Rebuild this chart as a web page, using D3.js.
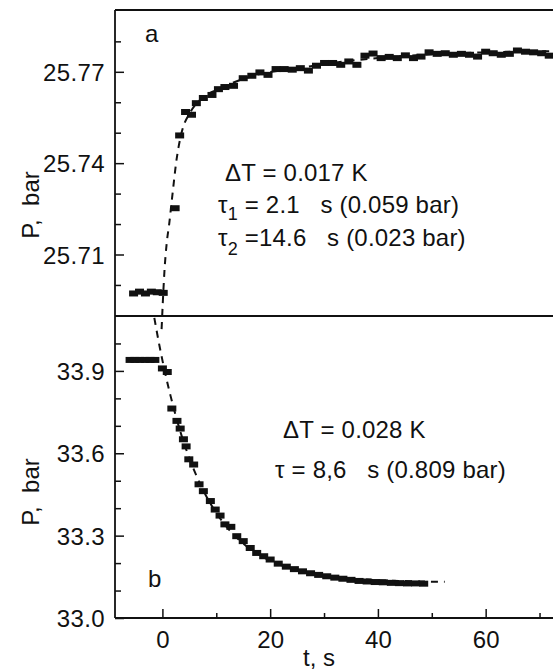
<!DOCTYPE html>
<html>
<head>
<meta charset="utf-8">
<script src="https://cdn.jsdelivr.net/npm/d3@7"></script>
<style>
  body { margin: 0; background: #fff; }
  svg text { font-family: "Liberation Sans", Arial, sans-serif; fill: #111; }
</style>
</head>
<body>
<div id="chart"></div>
<script>
// panneau a : montée de pression (s)
const tA = [-5.35, -4.25, -3.15, -2.05, -0.95, 0.15, 2.36, 3.2, 4.3, 5.4, 6.3, 7.6,
  9.2, 10.4, 11.6, 13.2, 15.0, 16.6, 18.1, 19.6, 21.1, 22.6, 24.1, 25.6,
  27.1, 28.6, 30.1, 31.6, 33.1, 34.6, 36.1, 37.6, 39.1, 40.6, 42.1, 43.6,
  45.1, 46.6, 48.0, 49.5, 51.0, 52.5, 54.0, 55.5, 57.0, 58.5, 60.0, 61.4,
  62.9, 64.4, 65.9, 67.4, 68.9, 70.4, 71.8];
const pA = [25.6972, 25.6978, 25.6972, 25.6978, 25.6976, 25.6974, 25.7252, 25.7491, 25.7568, 25.7559, 25.7597, 25.7614,
  25.7624, 25.7643, 25.7650, 25.7654, 25.7679, 25.7687, 25.7698, 25.7690, 25.7709, 25.7709, 25.7707, 25.7712,
  25.7704, 25.7720, 25.7729, 25.7729, 25.7723, 25.7734, 25.7723, 25.7753, 25.7760, 25.7745, 25.7749, 25.7745,
  25.7754, 25.7745, 25.7750, 25.7764, 25.7759, 25.7761, 25.7756, 25.7759, 25.7756, 25.7750, 25.7766, 25.7761,
  25.7756, 25.7759, 25.7770, 25.7766, 25.7764, 25.7761, 25.7753];

// courbe d'ajustement (pointillés) panneau a
const tFitA = [-0.15, 0.07, 0.37, 0.82, 1.24, 1.75, 2.17, 2.49, 2.97, 3.6, 5.1, 7.0, 10.7, 16.3, 25.6, 34.8, 44.1, 53.4, 62.7, 72.5];
const pFitA = [25.6855, 25.6941, 25.7043, 25.7141, 25.7197, 25.7279, 25.7345, 25.7394, 25.7450, 25.7503, 25.7565, 25.7608,
  25.7645, 25.7684, 25.7713, 25.7736, 25.7751, 25.7760, 25.7765, 25.7768];

// panneau b : descente de pression
const tB = [-6.0, -5.1, -4.2, -3.2, -2.3, -1.4, 0.0, 0.9, 1.75, 2.7, 3.3, 3.9, 4.4, 4.9, 5.8, 6.8, 7.6,
  8.9, 9.8, 10.7, 11.6, 12.7, 13.8, 15.0, 16.3, 17.5, 18.8, 20.0, 21.5, 23.0, 24.5, 26.0, 27.5,
  29.0, 30.5, 32.0, 33.5, 35.0, 36.5, 38.0, 39.5, 41.0, 42.5, 44.0, 45.5, 47.0, 48.5];
const pB = [33.940, 33.940, 33.940, 33.940, 33.940, 33.940, 33.909, 33.896, 33.763, 33.718, 33.690, 33.651, 33.625, 33.578, 33.559, 33.487, 33.462,
  33.426, 33.395, 33.373, 33.341, 33.332, 33.298, 33.280, 33.255, 33.237, 33.225, 33.213, 33.198, 33.187, 33.178, 33.170, 33.163,
  33.157, 33.152, 33.147, 33.143, 33.139, 33.135, 33.133, 33.131, 33.130, 33.128, 33.127, 33.126, 33.126, 33.125];

const tFitB = [-1.5, -0.5, 0.5, 1.5, 2.5, 3.5, 5, 6.5, 8, 10, 12, 14, 17, 20, 24, 28, 33, 38, 44, 48, 52.4];
const pFitB = [34.093, 33.987, 33.893, 33.810, 33.735, 33.668, 33.582, 33.510, 33.449, 33.383, 33.330, 33.289,
  33.242, 33.209, 33.180, 33.161, 33.147, 33.140, 33.135, 33.133, 33.132];

// graduations
const ticksAMajor = [25.71, 25.74, 25.77];
const ticksAMinor = [25.70, 25.72, 25.73, 25.75, 25.76, 25.78];
const ticksBMajor = [33.0, 33.3, 33.6, 33.9];
const ticksBMinor = [33.1, 33.2, 33.4, 33.5, 33.7, 33.8, 34.0];
const ticksXMajor = [0, 20, 40, 60];
const ticksXMinor = [10, 30, 50, 70];

//---------------------------------------------------------------------------------------

const width = 553;
const height = 671;
const xLeft = 115, xRight = 553, yTop = 10, yMid = 316, yBottom = 618;
const fontSize = "24px";

const svg = d3.select("#chart")
  .append("svg")
  .attr("width", width)
  .attr("height", height);

const x = d3.scaleLinear().domain([-8.8, 72.5]).range([xLeft, xRight]);
const yA = d3.scaleLinear().domain([25.6898, 25.7903]).range([yMid, yTop]);
const yB = d3.scaleLinear().domain([33.0, 34.1]).range([yBottom, yMid]);

// axes (graduations tournées vers l'intérieur)
function yAxis(scale, major, minor, fmt) {
  svg.append("g")
    .attr("transform", `translate(${xLeft},0)`)
    .call(d3.axisLeft(scale).tickValues(minor).tickSizeInner(-6).tickSizeOuter(0).tickFormat(""))
    .call(g => g.select(".domain").remove());
  svg.append("g")
    .attr("transform", `translate(${xLeft},0)`)
    .call(d3.axisLeft(scale).tickValues(major).tickSizeInner(-9).tickSizeOuter(0).tickPadding(10).tickFormat(d3.format(fmt)))
    .call(g => g.select(".domain").remove())
    .call(g => g.selectAll("text").attr("font-size", fontSize).attr("font-family", null)
      .attr("letter-spacing", "0.4px").attr("dy", "0.36em"));
}
yAxis(yA, ticksAMajor, ticksAMinor, ".2f");
yAxis(yB, ticksBMajor, ticksBMinor, ".1f");

svg.append("g")
  .attr("transform", `translate(0,${yBottom})`)
  .call(d3.axisBottom(x).tickValues(ticksXMinor).tickSizeInner(-5).tickSizeOuter(0).tickFormat(""))
  .call(g => g.select(".domain").remove());
svg.append("g")
  .attr("transform", `translate(0,${yBottom})`)
  .call(d3.axisBottom(x).tickValues(ticksXMajor).tickSizeInner(-9).tickSizeOuter(0).tickPadding(13).tickFormat(d3.format("d")))
  .call(g => g.select(".domain").remove())
  .call(g => g.selectAll("text").attr("font-size", fontSize).attr("font-family", null));

svg.selectAll(".tick line").attr("stroke", "#111").attr("stroke-width", 1.5);

// cadre
const frame = [
  [xLeft, yTop, xRight, yTop],
  [xLeft, yMid, xRight, yMid],
  [xLeft, yBottom, xRight, yBottom],
  [xLeft, yTop, xLeft, yBottom]
];
svg.append("g")
  .selectAll("line")
  .data(frame)
  .join("line")
  .attr("x1", d => d[0]).attr("y1", d => d[1])
  .attr("x2", d => d[2]).attr("y2", d => d[3])
  .attr("stroke", "#111")
  .attr("stroke-width", 1.8);

// courbes d'ajustement
function fit(ts, ps, scale) {
  const line = d3.line()
    .x((d, i) => x(ts[i]))
    .y((d, i) => scale(ps[i]))
    .curve(d3.curveMonotoneX);
  svg.append("path")
    .attr("d", line(ts))
    .attr("fill", "none")
    .attr("stroke", "#111")
    .attr("stroke-width", 2)
    .attr("stroke-dasharray", "7,6");
}
fit(tFitA, pFitA, yA);
fit(tFitB, pFitB, yB);

// points de mesure
function markers(ts, ps, scale) {
  svg.append("g")
    .selectAll("rect")
    .data(ts)
    .join("rect")
    .attr("x", (d) => x(d) - 4.5)
    .attr("y", (d, i) => scale(ps[i]) - 3)
    .attr("width", 9)
    .attr("height", 6)
    .attr("fill", "#111");
}
markers(tA, pA, yA);
markers(tB, pB, yB);

//---------------------------------------------------------------------------------------

// titres d'axes
[205, 492].forEach((cy) => {
  svg.append("text")
    .attr("transform", `translate(39,${cy}) rotate(-90)`)
    .attr("text-anchor", "middle")
    .attr("font-size", "24px")
    .style("white-space", "pre")
    .text("P,  bar");
});

svg.append("text")
  .attr("x", 319).attr("y", 666)
  .attr("text-anchor", "middle")
  .attr("font-size", fontSize)
  .text("t, s");

svg.append("text").attr("x", 145).attr("y", 42).attr("font-size", fontSize).text("a");
svg.append("text").attr("x", 148).attr("y", 587).attr("font-size", fontSize).text("b");

// annotations
function note(px, py, parts) {
  const t = svg.append("text")
    .attr("x", px).attr("y", py)
    .attr("font-size", "24px")
    .attr("letter-spacing", "0.2px")
    .style("white-space", "pre");
  parts.forEach(p => {
    t.append("tspan")
      .attr("dy", p.dy || 0)
      .attr("font-size", p.size || null)
      .text(p.s);
  });
}
note(225, 181, [{ s: "\u0394T = 0.017 K" }]);
note(218, 213, [{ s: "\u03c4" }, { s: "1", dy: 7, size: "18px" }, { s: " = 2.1   s (0.059 bar)", dy: -7 }]);
note(218, 246, [{ s: "\u03c4" }, { s: "2", dy: 9, size: "18px" }, { s: " =14.6   s (0.023 bar)", dy: -9 }]);
note(283, 438, [{ s: "\u0394T = 0.028 K" }]);
note(275, 478, [{ s: "\u03c4 = 8,6   s (0.809 bar)" }]);
</script>
</body>
</html>
